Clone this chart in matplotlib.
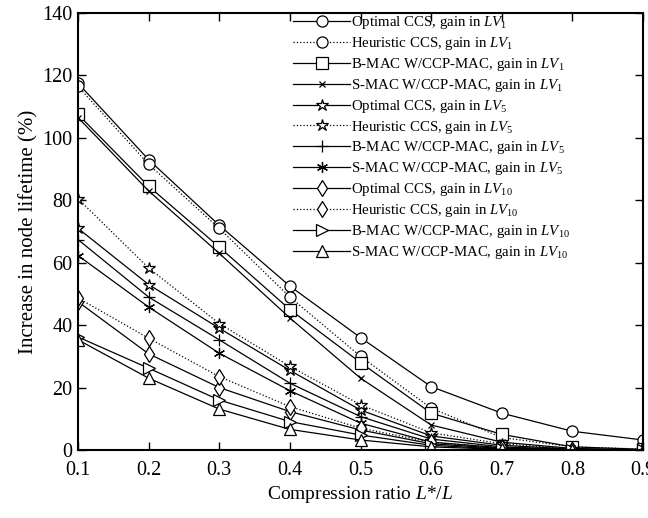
import numpy as np
import matplotlib
matplotlib.use("Agg")
import matplotlib.pyplot as plt

plt.rcParams['font.family'] = ['Liberation Serif', 'DejaVu Serif']
plt.rcParams['mathtext.fontset'] = 'custom'
plt.rcParams['mathtext.rm'] = 'Liberation Serif'
plt.rcParams['mathtext.it'] = 'Liberation Serif:italic'

# compression ratio L*/L
ratio = [0.1, 0.2, 0.3, 0.4, 0.5, 0.6, 0.7, 0.8, 0.9]

# increase in node lifetime (%)
opt_lv1 = [117.5, 93, 72, 52.5, 36, 20.3, 11.8, 6, 3.2]
heu_lv1 = [116.5, 91.5, 71, 49, 30, 13.4, 4, 1, 0.3]
bmac_lv1 = [107.5, 84.5, 65, 45, 28, 11.8, 5, 1, 0.2]
smac_lv1 = [106.5, 83, 63, 42.3, 23, 8, 2.5, 0.5, 0]
opt_lv5 = [71, 53, 39, 25.5, 12.8, 4.5, 1.5, 0.3, 0]
heu_lv5 = [80.5, 58.3, 40.5, 26.8, 14.5, 5.5, 2, 0.3, 0]
bmac_lv5 = [67.4, 49, 35.3, 21.4, 10.7, 3.5, 1, 0.2, 0]
smac_lv5 = [62.3, 45.8, 31, 19, 8.6, 2.5, 0.7, 0, 0]
opt_lv10 = [47.5, 30.8, 20, 12.3, 6.4, 2, 0.5, 0, 0]
heu_lv10 = [48.7, 35.8, 23.5, 13.9, 7, 2.5, 0.7, 0, 0]
bmac_lv10 = [36.2, 26.2, 16, 9.1, 4.8, 1.5, 0.3, 0, 0]
smac_lv10 = [35.3, 23, 13.1, 6.6, 3.2, 1, 0.2, 0, 0]

asterisk = (6, 2, 0)

series = [
    (opt_lv1, 'Optimal CCS, gain in $\\mathit{LV}_1$', 'o', '-'),
    (heu_lv1, 'Heuristic CCS, gain in $\\mathit{LV}_1$', 'o', ':'),
    (bmac_lv1, 'B-MAC W/CCP-MAC, gain in $\\mathit{LV}_1$', 's', '-'),
    (smac_lv1, 'S-MAC W/CCP-MAC, gain in $\\mathit{LV}_1$', 'x', '-'),
    (opt_lv5, 'Optimal CCS, gain in $\\mathit{LV}_5$', '*', '-'),
    (heu_lv5, 'Heuristic CCS, gain in $\\mathit{LV}_5$', '*', ':'),
    (bmac_lv5, 'B-MAC W/CCP-MAC, gain in $\\mathit{LV}_5$', '+', '-'),
    (smac_lv5, 'S-MAC W/CCP-MAC, gain in $\\mathit{LV}_5$', asterisk, '-'),
    (opt_lv10, 'Optimal CCS, gain in $\\mathit{LV}_{10}$', 'd', '-'),
    (heu_lv10, 'Heuristic CCS, gain in $\\mathit{LV}_{10}$', 'd', ':'),
    (bmac_lv10, 'B-MAC W/CCP-MAC, gain in $\\mathit{LV}_{10}$', '>', '-'),
    (smac_lv10, 'S-MAC W/CCP-MAC, gain in $\\mathit{LV}_{10}$', '^', '-'),
]

fig = plt.figure(figsize=(6.48, 5.18), dpi=100)
ax = fig.add_axes([0.1204, 0.1313, 0.8719, 0.8436])

for vals, lab, mk, ls in series:
    ms = 8
    if mk == 'x':
        ms = 5
    elif mk == '*':
        ms = 9
    ax.plot(ratio, vals, linestyle=ls, color='black', linewidth=0.9,
            marker=mk, markersize=ms, markerfacecolor='white',
            markeredgecolor='black', markeredgewidth=0.9, label=lab)

ax.set_xlim(0.1, 0.9)
ax.set_ylim(0, 140)
ax.set_xticks(ratio)
ax.set_xticklabels([f'{v:.1f}' for v in ratio])
ax.set_yticks(np.arange(0, 141, 20))
ax.tick_params(direction='in', top=True, right=True, length=6, width=1,
               labelsize=14.5)
ax.tick_params(axis='x', pad=8)
ax.tick_params(axis='y', pad=4)
for sp in ax.spines.values():
    sp.set_linewidth(1.5)

ax.set_xlabel('Compression ratio $\\mathit{L}$*/$\\mathit{L}$', fontsize=14, labelpad=3)
ax.set_ylabel('Increase in node lifetime (%)', fontsize=15, labelpad=3)

leg = ax.legend(loc='upper left', bbox_to_anchor=(0.381, 0.997), fontsize=10.7,
                frameon=False, handlelength=3.8, handletextpad=0.1,
                labelspacing=0.26, borderaxespad=0, borderpad=0)

fig.savefig('out.png', dpi=100)
